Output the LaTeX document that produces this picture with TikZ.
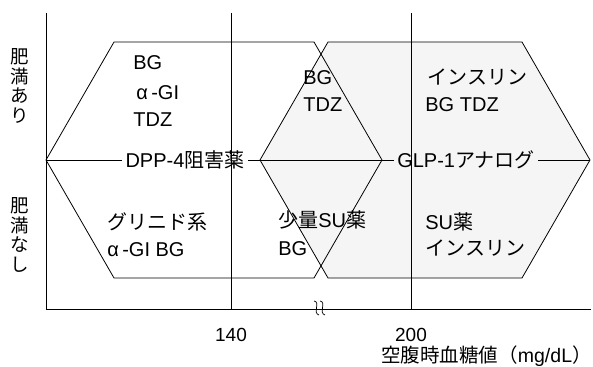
\documentclass[tikz,border=0pt]{standalone}
\usepackage{fontspec}
\setmainfont{Liberation Sans}
\newfontfamily\jp{Noto Sans CJK JP}
\begin{document}
\begin{tikzpicture}[x=1pt,y=-1pt,line width=0.8pt,
  lbl/.style={font=\fontsize{20}{22}\selectfont,inner sep=0pt,anchor=base west},
  midlbl/.style={font=\fontsize{20}{22}\selectfont,inner sep=3pt},
  vlbl/.style={font=\jp\fontsize{18.5}{19.5}\selectfont,align=center,inner sep=0pt},
  tick/.style={font=\fontsize{19}{21}\selectfont,inner sep=0pt,anchor=base}]
\useasboundingbox (0,0) rectangle (593,366);
% hexagon corners
\coordinate (L1) at (46,160);  \coordinate (L2) at (114,42);
\coordinate (L3) at (314,42);  \coordinate (L4) at (382,160);
\coordinate (L5) at (314,278); \coordinate (L6) at (114,278);
\coordinate (R1) at (260,160); \coordinate (R2) at (328,42);
\coordinate (R3) at (522,42);  \coordinate (R4) at (590,160);
\coordinate (R5) at (522,278); \coordinate (R6) at (328,278);
% axes
\coordinate (axTop) at (46,13); \coordinate (orig) at (46,309); \coordinate (axEnd) at (591,309);
\coordinate (aT) at (231,13); \coordinate (aB) at (231,309);
\coordinate (bT) at (411,13); \coordinate (bB) at (411,309);
\fill[black!4] (R1)--(R2)--(R3)--(R4)--(R5)--(R6)--cycle;
\draw (axTop) -- (orig) -- (axEnd);
\draw (aT) -- (aB);
\draw (bT) -- (bB);
% break mark
\draw[line width=0.7pt] (314,301) .. controls (321,302) and (312,313) .. (319,315);
\draw[line width=0.7pt] (320,301) .. controls (327,302) and (318,313) .. (325,315);
% hexagons
\draw (L1)--(L2)--(L3)--(L4)--(L5)--(L6)--cycle;
\draw (R1)--(R2)--(R3)--(R4)--(R5)--(R6)--cycle;
% middle line with labels
\node[midlbl] (dpp) at (185,160) {DPP-4{\jp 阻害薬}};
\node[midlbl] (glp) at (466,160) {GLP-1{\jp アナログ}};
\draw (L1) -- (dpp.west);
\draw (dpp.east) -- (glp.west);
\draw (glp.east) -- (R4);
% upper labels
\node[lbl] (t1) at (133,70) {BG};
\node[lbl] (t2) at (136,100) {α\,-GI};
\node[lbl] (t3) at (133,127) {TDZ};
\node[lbl] (t4) at (303,85) {BG};
\node[lbl] (t5) at (303,112) {TDZ};
\node[lbl] (t6) at (427,85) {\jp インスリン};
\node[lbl] (t7) at (425,112) {BG TDZ};
% lower labels
\node[lbl] (t8) at (107,229) {\jp グリニド系};
\node[lbl] (t9) at (107,256) {α\,-GI BG};
\node[lbl] (t10) at (278,227) {{\jp 少量}SU{\jp 薬}};
\node[lbl] (t11) at (278,255) {BG};
\node[lbl] (t12) at (425,229) {SU{\jp 薬}};
\node[lbl] (t13) at (425,255) {\jp インスリン};
% side labels
\node[vlbl] (obA) at (20,86) {肥\\満\\あ\\り};
\node[vlbl] (obN) at (20,235) {肥\\満\\な\\し};
% axis labels
\node[tick] (x140) at (231,341) {140};
\node[tick] (x200) at (411,341) {200};
\node[font=\fontsize{19.5}{21}\selectfont,inner sep=0pt,anchor=base east] (xt) at (592,362) {{\jp 空腹時血糖値（}mg/dL{\jp ）}};
\end{tikzpicture}
\end{document}
